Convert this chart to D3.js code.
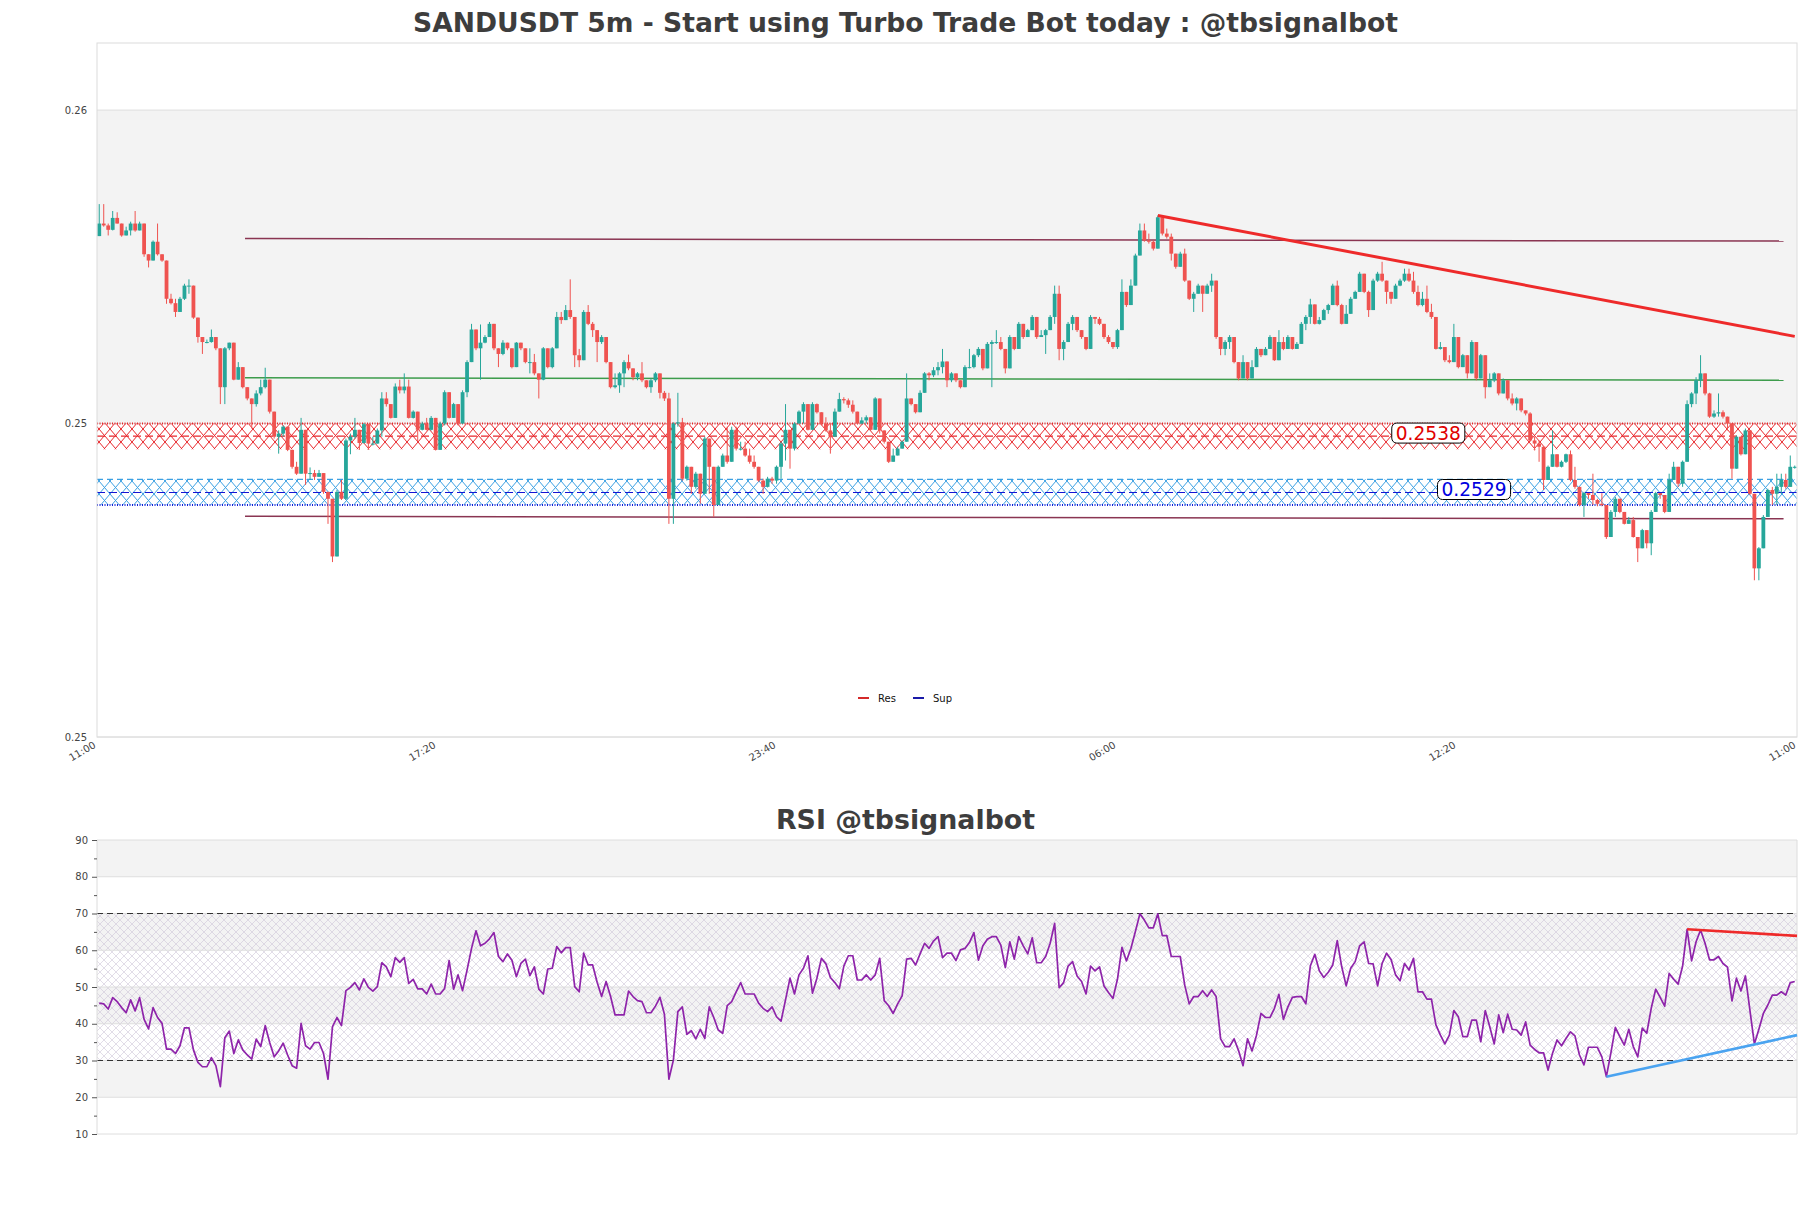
<!DOCTYPE html>
<html>
<head>
<meta charset="utf-8">
<script src="https://cdn.jsdelivr.net/npm/d3@7"></script>
<style>
  body { margin: 0; background: #fff; }
  svg { display: block; font-family: "DejaVu Sans", sans-serif; }
</style>
</head>
<body>
<div id="chart"></div>
<script>
// --- data ---
var firstOpen = 0.25699
var closes = [
  0.25719,0.25716,0.25709,0.25728,0.25719,0.25700,0.25708,0.25719,0.25708,0.25719,
  0.25670,0.25660,0.25690,0.25670,0.25660,0.25599,0.25592,0.25578,0.25599,0.25620,
  0.25620,0.25569,0.25538,0.25530,0.25530,0.25538,0.25520,0.25458,0.25520,0.25529,
  0.25470,0.25490,0.25458,0.25440,0.25431,0.25448,0.25458,0.25470,0.25419,0.25379,
  0.25384,0.25395,0.25358,0.25331,0.25320,0.25390,0.25320,0.25321,0.25315,0.25321,0.25291,
  0.25280,0.25188,0.25291,0.25280,0.25373,0.25379,0.25390,0.25369,0.25399,0.25368,
  0.25368,0.25389,0.25440,0.25431,0.25409,0.25459,0.25453,0.25459,0.25409,0.25419,
  0.25390,0.25400,0.25390,0.25409,0.25358,0.25400,0.25450,0.25409,0.25431,0.25400,
  0.25450,0.25498,0.25550,0.25520,0.25529,0.25538,0.25559,0.25520,0.25511,0.25529,
  0.25520,0.25490,0.25529,0.25520,0.25498,0.25498,0.25480,0.25470,0.25520,0.25490,
  0.25520,0.25570,
  0.25565,0.25581,0.25570,0.25509,0.25501,0.25578,0.25559,0.25549,0.25530,0.25538,
  0.25498,0.25458,0.25461,0.25480,0.25498,0.25488,0.25474,0.25480,0.25469,0.25458,
  0.25469,0.25480,0.25449,0.25440,0.25280,0.25400,0.25402,
  0.25312,0.25331,0.25299,0.25320,0.25288,0.25376,0.25331,0.25270,0.25331,0.25349,
  0.25339,0.25390,0.25360,0.25360,0.25349,0.25339,0.25331,0.25309,0.25299,0.25312,
  0.25309,0.25331,0.25368,0.25390,0.25360,0.25400,
  0.25419,0.25431,0.25390,0.25431,0.25418,0.25400,0.25389,0.25379,0.25419,0.25439,
  0.25437,0.25430,0.25419,0.25400,0.25405,0.25410,0.25390,0.25440,0.25389,0.25371,
  0.25339,0.25349,0.25360,0.25371,0.25440,0.25431,0.25418,
  0.25449,0.25480,0.25477,0.25485,0.25490,0.25499,0.25469,0.25480,0.25469,0.25458,
  0.25490,0.25490,0.25509,0.25519,0.25488,0.25527,0.25530,0.25530,0.25519,0.25488,
  0.25538,0.25519,0.25559,0.25538,0.25549,0.25570,0.25538,
  0.25541,0.25549,0.25570,0.25607,0.25519,0.25530,0.25559,0.25570,0.25549,0.25538,
  0.25519,0.25570,0.25567,0.25559,0.25538,0.25530,0.25522,0.25549,0.25610,0.25589,
  0.25620,0.25668,0.25708,0.25692,
  0.25690,0.25679,0.25729,0.25703,0.25698,0.25671,0.25650,0.25671,0.25628,0.25599,
  0.25607,0.25620,0.25607,0.25620,0.25628,0.25538,0.25519,0.25530,0.25538,0.25498,
  0.25472,0.25498,0.25472,0.25490,0.25519,0.25509,0.25519,0.25538,0.25501,0.25530,
  0.25519,0.25538,0.25519,0.25527,0.25559,0.25570,0.25590,0.25559,0.25565,0.25581,
  0.25589,0.25620,0.25589,0.25559,0.25575,0.25599,0.25610,0.25639,0.25610,0.25581,
  0.25628,0.25639,0.25628,0.25610,0.25599,0.25620,0.25628,0.25639,0.25628,0.25610,
  0.25589,0.25599,0.25578,0.25570,0.25519,0.25522,0.25501,0.25498,0.25538,0.25490,
  0.25509,0.25480,0.25530,0.25472,0.25509,0.25458,0.25469,0.25480,0.25448,0.25469,
  0.25440,0.25432,0.25440,0.25421,0.25416,0.25373,
  0.25368,0.25363,0.25310,0.25331,0.25351,0.25331,0.25339,0.25351,0.25310,0.25299,
  0.25270,0.25289,0.25286,0.25278,0.25272,0.25270,0.25219,0.25259,0.25280,0.25259,
  0.25240,0.25246,0.25219,0.25201,0.25230,0.25209,0.25259,0.25289,0.25286,0.25259,
  0.25310,0.25331,0.25304,0.25339,0.25431,0.25448,0.25469,0.25480,0.25448,0.25411,
  0.25416,0.25418,0.25411,0.25400,0.25328,0.25379,0.25351,0.25389,0.25288,0.25169,
  0.25201,0.25251,0.25294,0.25288,0.25299,0.25310,0.25299,0.25331,0.25331
]
var highs = [
  0.25750,0.25750,0.25719,0.25739,0.25737,0.25719,0.25714,0.25722,0.25739,0.25722,
  0.25719,0.25670,0.25692,0.25719,0.25670,0.25660,0.25607,0.25599,0.25602,0.25623,
  0.25630,0.25620,0.25569,0.25538,0.25534,0.25550,0.25538,0.25520,0.25522,0.25529,
  0.25529,0.25498,0.25490,0.25458,0.25440,0.25453,0.25470,0.25489,0.25470,0.25419,
  0.25389,0.25397,0.25395,0.25358,0.25339,0.25409,0.25390,0.25330,0.25326,0.25326,0.25321,
  0.25291,0.25280,0.25294,0.25310,0.25376,0.25384,0.25409,0.25390,0.25401,0.25399,
  0.25379,0.25392,0.25450,0.25450,0.25431,0.25464,0.25470,0.25480,0.25470,0.25421,
  0.25419,0.25403,0.25409,0.25412,0.25409,0.25403,0.25453,0.25450,0.25433,0.25431,
  0.25453,0.25501,0.25559,0.25529,0.25558,0.25541,0.25562,0.25559,0.25520,0.25533,
  0.25529,0.25520,0.25530,0.25529,0.25520,0.25520,0.25511,0.25480,0.25522,0.25520,
  0.25522,0.25578,
  0.25578,0.25589,0.25630,0.25570,0.25519,0.25581,0.25589,0.25562,0.25549,0.25541,
  0.25538,0.25498,0.25480,0.25482,0.25501,0.25510,0.25480,0.25482,0.25498,0.25469,
  0.25472,0.25482,0.25480,0.25452,0.25449,0.25402,0.25449,
  0.25409,0.25333,0.25331,0.25323,0.25320,0.25379,0.25376,0.25331,0.25333,0.25352,
  0.25395,0.25395,0.25395,0.25371,0.25371,0.25360,0.25349,0.25331,0.25312,0.25315,
  0.25315,0.25333,0.25371,0.25431,0.25390,0.25402,
  0.25421,0.25434,0.25431,0.25434,0.25432,0.25418,0.25410,0.25400,0.25424,0.25449,
  0.25442,0.25440,0.25437,0.25419,0.25410,0.25413,0.25410,0.25442,0.25437,0.25389,
  0.25371,0.25360,0.25363,0.25373,0.25480,0.25440,0.25431,
  0.25453,0.25482,0.25482,0.25490,0.25498,0.25519,0.25498,0.25482,0.25480,0.25469,
  0.25493,0.25519,0.25511,0.25522,0.25519,0.25530,0.25533,0.25549,0.25538,0.25519,
  0.25541,0.25538,0.25562,0.25559,0.25551,0.25573,0.25570,
  0.25549,0.25551,0.25573,0.25620,0.25620,0.25533,0.25562,0.25573,0.25570,0.25549,
  0.25538,0.25573,0.25570,0.25570,0.25559,0.25541,0.25530,0.25551,0.25630,0.25610,
  0.25630,0.25671,0.25719,0.25719,
  0.25703,0.25692,0.25732,0.25719,0.25711,0.25703,0.25671,0.25674,0.25679,0.25628,
  0.25610,0.25623,0.25620,0.25623,0.25639,0.25628,0.25538,0.25533,0.25541,0.25538,
  0.25498,0.25509,0.25498,0.25501,0.25522,0.25519,0.25522,0.25541,0.25538,0.25549,
  0.25538,0.25541,0.25538,0.25530,0.25562,0.25573,0.25599,0.25590,0.25570,0.25583,
  0.25591,0.25623,0.25628,0.25591,0.25589,0.25602,0.25612,0.25642,0.25639,0.25612,
  0.25631,0.25642,0.25658,0.25628,0.25610,0.25623,0.25631,0.25647,0.25647,0.25642,
  0.25620,0.25610,0.25620,0.25591,0.25570,0.25530,0.25522,0.25509,0.25559,0.25538,
  0.25511,0.25509,0.25533,0.25530,0.25511,0.25490,0.25480,0.25482,0.25480,0.25472,
  0.25469,0.25448,0.25442,0.25440,0.25421,0.25418,
  0.25379,0.25373,0.25351,0.25333,0.25389,0.25351,0.25341,0.25352,0.25357,0.25331,
  0.25299,0.25291,0.25289,0.25320,0.25280,0.25289,0.25270,0.25262,0.25283,0.25280,
  0.25259,0.25251,0.25251,0.25219,0.25232,0.25230,0.25262,0.25291,0.25289,0.25280,
  0.25320,0.25339,0.25331,0.25341,0.25437,0.25450,0.25474,0.25509,0.25480,0.25449,
  0.25421,0.25448,0.25421,0.25411,0.25400,0.25381,0.25379,0.25392,0.25389,0.25288,
  0.25203,0.25254,0.25296,0.25299,0.25320,0.25320,0.25320,0.25349,0.25333
]
var lows = [
  0.25699,0.25714,0.25700,0.25708,0.25719,0.25698,0.25700,0.25700,0.25706,0.25708,
  0.25666,0.25649,0.25660,0.25668,0.25658,0.25591,0.25590,0.25570,0.25578,0.25597,
  0.25607,0.25567,0.25529,0.25511,0.25528,0.25529,0.25517,0.25431,0.25431,0.25517,
  0.25469,0.25470,0.25456,0.25437,0.25392,0.25427,0.25445,0.25456,0.25416,0.25376,
  0.25352,0.25379,0.25356,0.25328,0.25318,0.25320,0.25302,0.25310,0.25310,0.25315,0.25288,
  0.25240,0.25179,0.25188,0.25278,0.25278,0.25351,0.25376,0.25358,0.25368,0.25358,
  0.25365,0.25368,0.25379,0.25427,0.25408,0.25409,0.25448,0.25448,0.25408,0.25408,
  0.25372,0.25389,0.25389,0.25389,0.25357,0.25358,0.25397,0.25408,0.25409,0.25397,
  0.25400,0.25442,0.25498,0.25517,0.25470,0.25528,0.25538,0.25517,0.25490,0.25509,
  0.25517,0.25488,0.25490,0.25517,0.25496,0.25480,0.25477,0.25440,0.25469,0.25488,
  0.25488,0.25520,
  0.25559,0.25570,0.25567,0.25490,0.25490,0.25501,0.25557,0.25538,0.25498,0.25527,
  0.25496,0.25456,0.25456,0.25449,0.25458,0.25485,0.25469,0.25469,0.25466,0.25456,
  0.25449,0.25466,0.25440,0.25436,0.25240,0.25240,0.25395,
  0.25309,0.25309,0.25288,0.25296,0.25272,0.25288,0.25288,0.25251,0.25270,0.25331,
  0.25336,0.25339,0.25357,0.25357,0.25347,0.25336,0.25328,0.25307,0.25288,0.25298,
  0.25304,0.25304,0.25312,0.25341,0.25328,0.25357,
  0.25400,0.25400,0.25389,0.25390,0.25416,0.25397,0.25387,0.25352,0.25379,0.25419,
  0.25432,0.25425,0.25416,0.25399,0.25399,0.25400,0.25389,0.25390,0.25384,0.25368,
  0.25337,0.25339,0.25349,0.25360,0.25371,0.25429,0.25416,
  0.25418,0.25449,0.25469,0.25474,0.25477,0.25480,0.25458,0.25466,0.25466,0.25456,
  0.25458,0.25488,0.25488,0.25506,0.25485,0.25488,0.25458,0.25527,0.25517,0.25480,
  0.25488,0.25517,0.25519,0.25535,0.25538,0.25549,0.25535,
  0.25538,0.25511,0.25549,0.25559,0.25501,0.25501,0.25530,0.25549,0.25546,0.25535,
  0.25517,0.25519,0.25559,0.25557,0.25535,0.25527,0.25519,0.25519,0.25549,0.25586,
  0.25589,0.25620,0.25668,0.25690,
  0.25687,0.25676,0.25679,0.25700,0.25695,0.25660,0.25647,0.25650,0.25626,0.25597,
  0.25578,0.25607,0.25578,0.25607,0.25610,0.25535,0.25509,0.25509,0.25519,0.25496,
  0.25469,0.25472,0.25469,0.25472,0.25498,0.25506,0.25509,0.25519,0.25500,0.25501,
  0.25517,0.25519,0.25518,0.25519,0.25527,0.25549,0.25559,0.25558,0.25558,0.25565,
  0.25575,0.25589,0.25587,0.25558,0.25559,0.25575,0.25599,0.25610,0.25608,0.25570,
  0.25581,0.25626,0.25626,0.25591,0.25591,0.25599,0.25619,0.25626,0.25626,0.25607,
  0.25587,0.25587,0.25576,0.25567,0.25518,0.25518,0.25498,0.25496,0.25498,0.25488,
  0.25490,0.25472,0.25480,0.25469,0.25472,0.25440,0.25466,0.25466,0.25445,0.25448,
  0.25437,0.25429,0.25421,0.25418,0.25413,0.25371,
  0.25357,0.25339,0.25294,0.25310,0.25331,0.25330,0.25330,0.25337,0.25308,0.25296,
  0.25268,0.25251,0.25280,0.25270,0.25268,0.25268,0.25216,0.25219,0.25251,0.25257,
  0.25239,0.25240,0.25218,0.25179,0.25201,0.25201,0.25190,0.25259,0.25280,0.25257,
  0.25259,0.25310,0.25299,0.25299,0.25349,0.25426,0.25431,0.25458,0.25445,0.25409,
  0.25409,0.25411,0.25408,0.25389,0.25312,0.25328,0.25349,0.25351,0.25286,0.25150,
  0.25150,0.25201,0.25251,0.25270,0.25270,0.25288,0.25296,0.25299,0.25328
]
var rsi = [
  45.6,45.4,44.0,47.1,46.0,44.4,43.0,46.5,43.5,47.1,41.2,38.6,44.4,41.7,40.1,33.1,33.1,31.9,34.0,38.9,
  38.9,32.9,29.5,28.3,28.3,30.8,28.6,22.9,36.2,38.0,31.9,35.6,32.9,31.5,30.4,35.8,33.8,39.5,34.9,31.0,
  32.6,34.7,31.5,28.6,27.9,40.1,34.0,33.1,34.9,34.9,31.9,24.9,39.2,41.7,39.5,49.0,49.9,51.2,49.2,52.2,
  49.9,48.9,50.1,
  56.6,55.5,52.8,58.0,56.7,58.0,51.0,52.1,49.5,49.5,48.1,50.8,48.1,48.1,49.6,57.2,49.4,53.3,49.0,54.6,
  60.5,65.3,61.2,61.9,63.1,64.8,58.3,56.9,59.0,57.3,52.8,56.4,57.6,53.1,55.5,49.4,48.1,54.9,55.1,61.0,
  59.3,60.7,60.7,50.1,48.7,59.2,56.0,56.0,51.3,47.4,51.5,47.4,42.4,42.4,42.4,48.9,47.4,46.3,46.0,43.0,
  43.0,44.8,47.2,42.6,24.9,30.1,43.3,44.6,37.1,38.1,35.9,38.5,36.0,44.6,41.7,38.3,37.4,44.9,46.0,48.7,
  51.2,48.1,48.1,48.1,45.6,44.2,43.3,44.6,41.9,40.7,46.5,52.4,48.1,53.3,55.1,58.5,48.3,52.4,57.8,56.3,
  52.6,51.2,49.5,55.7,58.5,58.5,51.9,51.9,53.3,51.9,53.3,57.8,46.3,44.9,42.8,45.4,47.6,57.6,57.8,56.0,
  59.0,61.9,60.5,62.5,63.7,58.0,59.2,59.2,57.2,60.1,
  60.5,62.1,64.8,57.3,61.2,63.0,63.7,63.7,61.4,55.3,62.3,57.6,63.7,61.2,59.0,63.4,56.6,56.6,58.3,61.9,
  67.3,49.8,51.2,55.7,56.9,53.0,51.5,48.1,55.7,54.4,55.5,50.3,48.5,46.9,52.1,60.8,57.1,60.5,65.1,69.9,
  68.2,66.1,66.1,69.9,64.0,64.0,58.3,58.3,58.3,50.5,45.4,47.4,47.4,49.0,47.4,49.2,47.4,35.9,33.8,33.8,
  35.9,32.7,28.6,35.9,32.6,36.9,42.8,41.7,41.7,44.2,48.0,41.2,44.6,47.2,47.4,47.4,45.4,55.7,58.9,54.4,
  52.6,54.0,56.0,62.6,55.5,50.3,55.1,56.9,61.2,62.3,56.4,56.3,50.3,56.4,59.2,57.5,53.3,51.7,56.4,54.6,
  57.8,48.7,48.7,46.7,46.7,39.7,36.9,34.5,36.9,43.6,41.9,36.5,36.5,41.0,41.0,35.1,43.6,39.2,34.5,
  42.4,37.6,42.6,38.5,38.3,36.9,40.5,34.2,33.0,32.1,32.1,27.4,32.0,35.6,34.0,36.0,37.8,36.7,31.5,28.8,
  33.6,33.6,33.6,31.0,25.6,32.0,39.0,36.5,34.2,38.5,33.8,31.0,38.8,37.4,44.2,49.4,47.2,44.8,53.7,52.1,
  50.8,55.7,65.7,57.1,62.3,65.5,61.9,57.4,57.4,58.3,56.4,55.4,46.2,52.4,48.9,53.0,43.7,34.5,38.5,42.8,
  45.1,47.8,47.8,48.7,47.8,51.2,51.5
]
var timeLabels = ["11:00", "17:20", "23:40", "06:00", "12:20", "11:00"]
var priceTicks = [0.249, 0.254, 0.259]
var rsiTicks = [10, 20, 30, 40, 50, 60, 70, 80, 90]
var rsiMinorTicks = [15, 25, 35, 45, 55, 65, 75, 85]
var resZone = [0.25359, 0.25400], resLevel = 0.2538
var supZone = [0.25270, 0.25311], supLevel = 0.2529
// [candle position, price]
var resTrend = [[236.5, 0.25732], [378.5, 0.25539]]
var upperLine = [[33, 0.25695], [376, 0.25691]]
var midLine = [[33, 0.25473], [376, 0.25469]]
var lowerLine = [[33, 0.25252], [376, 0.25248]]
var resLabelAt = 296.8, supLabelAt = 307
// [candle position, rsi]
var rsiResTrend = [[354.5, 65.7], [379, 63.9]]
var rsiSupTrend = [[336.5, 25.6], [379, 36.9]]

// --- drawing ---
var N = closes.length
var candles = closes.map(function(c, i) {
  var o = i === 0 ? firstOpen : closes[i - 1]
  return { i: i, o: o, c: c, h: Math.max(highs[i], o, c), l: Math.min(lows[i], o, c) }
})

var svg = d3.select("#chart").append("svg").attr("width", 1811).attr("height", 1208)
var defs = svg.append("defs")

function hatch(id, color, w, h, sw) {
  var p = defs.append("pattern").attr("id", id)
    .attr("patternUnits", "userSpaceOnUse").attr("width", w).attr("height", h)
  p.append("path").attr("d", "M0,0L" + w + "," + h + "M0," + h + "L" + w + ",0")
    .attr("stroke", color).attr("stroke-width", sw).attr("fill", "none")
}
hatch("hatchRes", "#e8262b", 11, 13, 1)
hatch("hatchSup", "#3ba0e2", 11, 13, 1)
hatch("hatchRsi", "#cfc6d9", 8, 8, 0.6)

var M = { left: 97, right: 1797, top: 43, bottom: 737 }
var x = d3.scaleLinear().domain([0, N]).range([M.left, M.right])
var y = d3.scaleLinear().domain([0.249, 0.26007]).range([M.bottom, M.top])

svg.append("text").attr("x", 905.5).attr("y", 32).attr("text-anchor", "middle")
  .attr("font-size", 26.6).attr("font-weight", "bold").attr("fill", "#3d3d3d")
  .text("SANDUSDT 5m - Start using Turbo Trade Bot today : @tbsignalbot")

var main = svg.append("g")
main.append("rect").attr("x", M.left).attr("width", M.right - M.left)
  .attr("y", y(priceTicks[2])).attr("height", y(priceTicks[1]) - y(priceTicks[2]))
  .attr("fill", "#f3f3f3")
main.selectAll(".grid").data(priceTicks).enter().append("line")
  .attr("x1", M.left).attr("x2", M.right)
  .attr("y1", function(d) { return y(d) }).attr("y2", function(d) { return y(d) })
  .attr("stroke", "#dedede").attr("stroke-width", 1)

// resistance zone
main.append("rect").attr("x", M.left).attr("width", M.right - M.left)
  .attr("y", y(resZone[1])).attr("height", y(resZone[0]) - y(resZone[1]))
  .attr("fill", "url(#hatchRes)")
main.append("line").attr("x1", M.left).attr("x2", M.right)
  .attr("y1", y(resZone[1])).attr("y2", y(resZone[1]))
  .attr("stroke", "#e8262b").attr("stroke-width", 2).attr("stroke-dasharray", "1,1.5")
main.append("line").attr("x1", M.left).attr("x2", M.right)
  .attr("y1", y(resLevel)).attr("y2", y(resLevel))
  .attr("stroke", "#e8262b").attr("stroke-width", 1.2).attr("stroke-dasharray", "8,4")

// support zone
main.append("rect").attr("x", M.left).attr("width", M.right - M.left)
  .attr("y", y(supZone[1])).attr("height", y(supZone[0]) - y(supZone[1]))
  .attr("fill", "url(#hatchSup)")
main.append("line").attr("x1", M.left).attr("x2", M.right)
  .attr("y1", y(supZone[1])).attr("y2", y(supZone[1]))
  .attr("stroke", "#3ba0e2").attr("stroke-width", 1.2).attr("stroke-dasharray", "6,4")
main.append("line").attr("x1", M.left).attr("x2", M.right)
  .attr("y1", y(supLevel)).attr("y2", y(supLevel))
  .attr("stroke", "#1414d2").attr("stroke-width", 1.2).attr("stroke-dasharray", "8,4")
main.append("line").attr("x1", M.left).attr("x2", M.right)
  .attr("y1", y(supZone[0])).attr("y2", y(supZone[0]))
  .attr("stroke", "#1020d8").attr("stroke-width", 2).attr("stroke-dasharray", "1,1.5")

var segLine = d3.line()
  .x(function(d) { return x(d[0]) })
  .y(function(d) { return y(d[1]) })
main.append("path").attr("d", segLine(upperLine)).attr("stroke", "#8a3552").attr("stroke-width", 1.5).attr("fill", "none")
main.append("path").attr("d", segLine(midLine)).attr("stroke", "#3d9c4c").attr("stroke-width", 1.5).attr("fill", "none")
main.append("path").attr("d", segLine(lowerLine)).attr("stroke", "#8a3552").attr("stroke-width", 1.5).attr("fill", "none")

// candles
var up = "#26a69a", down = "#ef5350"
var cg = main.selectAll(".candle").data(candles).enter().append("g")
cg.append("line")
  .attr("x1", function(d) { return x(d.i + 0.5) }).attr("x2", function(d) { return x(d.i + 0.5) })
  .attr("y1", function(d) { return y(d.h) }).attr("y2", function(d) { return y(d.l) })
  .attr("stroke", function(d) { return d.c >= d.o ? up : down }).attr("stroke-width", 1)
cg.append("rect")
  .attr("x", function(d) { return x(d.i + 0.5) - 1.9 }).attr("width", 3.8)
  .attr("y", function(d) { return y(Math.max(d.o, d.c)) })
  .attr("height", function(d) { return Math.max(1, Math.abs(y(d.o) - y(d.c))) })
  .attr("fill", function(d) { return d.c >= d.o ? up : down })

main.append("path").attr("d", segLine(resTrend)).attr("stroke", "#ee2a2a").attr("stroke-width", 3).attr("fill", "none")

// level labels
function levelLabel(pos, level, color) {
  var cy = y(level) - 3
  var t = main.append("text").attr("x", x(pos)).attr("y", cy + 6.6)
    .attr("text-anchor", "middle").attr("font-size", 18.6).attr("fill", color)
    .text(level.toFixed(4))
  var b = t.node().getBBox()
  main.insert("rect", function() { return t.node() })
    .attr("x", b.x - 4).attr("y", cy - 10).attr("width", b.width + 8).attr("height", 20)
    .attr("rx", 5).attr("fill", "#fff").attr("stroke", "#000").attr("stroke-width", 1)
}
levelLabel(resLabelAt, resLevel, "#e00000")
levelLabel(supLabelAt, supLevel, "#0000e0")

// legend
var lg = main.append("g").attr("font-size", 10).attr("fill", "#111")
lg.append("line").attr("x1", 858).attr("x2", 869).attr("y1", 698).attr("y2", 698).attr("stroke", "#d42a2a").attr("stroke-width", 2)
lg.append("text").attr("x", 878).attr("y", 701.5).text("Res")
lg.append("line").attr("x1", 913).attr("x2", 924).attr("y1", 698).attr("y2", 698).attr("stroke", "#1a1aa8").attr("stroke-width", 2)
lg.append("text").attr("x", 933).attr("y", 701.5).text("Sup")

// border
main.append("rect").attr("x", M.left).attr("y", M.top).attr("width", M.right - M.left).attr("height", M.bottom - M.top)
  .attr("fill", "none").attr("stroke", "#dcdcdc").attr("stroke-width", 1)

// axes
var yAxis = svg.append("g").attr("transform", "translate(" + M.left + ",0)")
  .call(d3.axisLeft(y).tickValues(priceTicks).tickFormat(d3.format(".2f")).tickSize(0).tickPadding(10))
yAxis.select(".domain").remove()
yAxis.selectAll("text").attr("font-size", 10).attr("fill", "#444").attr("font-family", "DejaVu Sans")

var xTicks = d3.range(timeLabels.length).map(function(k) { return k * N / (timeLabels.length - 1) })
var xAxis = svg.append("g").attr("transform", "translate(0," + M.bottom + ")")
  .call(d3.axisBottom(x).tickValues(xTicks).tickFormat(function(d, k) { return timeLabels[k] }).tickSize(0))
xAxis.select(".domain").remove()
xAxis.selectAll("text").attr("font-size", 10).attr("fill", "#444").attr("font-family", "DejaVu Sans")
  .attr("text-anchor", "end").attr("dy", null).attr("y", 0)
  .attr("transform", "translate(-1,10) rotate(-30)")

// --- RSI panel ---
var R = { left: 97, right: 1797, top: 840, bottom: 1134 }
var yr = d3.scaleLinear().domain([10, 90]).range([R.bottom, R.top])

svg.append("text").attr("x", 905.5).attr("y", 829).attr("text-anchor", "middle")
  .attr("font-size", 26.8).attr("font-weight", "bold").attr("fill", "#3d3d3d")
  .text("RSI @tbsignalbot")

var rg = svg.append("g")
var grayBands = [[80, 90], [60, 70], [40, 50], [20, 30]]
rg.selectAll(".band").data(grayBands).enter().append("rect")
  .attr("x", R.left).attr("width", R.right - R.left)
  .attr("y", function(d) { return yr(d[1]) }).attr("height", function(d) { return yr(d[0]) - yr(d[1]) })
  .attr("fill", "#f3f3f3")
rg.append("rect").attr("x", R.left).attr("width", R.right - R.left)
  .attr("y", yr(70)).attr("height", yr(30) - yr(70)).attr("fill", "url(#hatchRsi)")
rg.selectAll(".grid").data(rsiTicks).enter().append("line")
  .attr("x1", R.left).attr("x2", R.right)
  .attr("y1", function(d) { return yr(d) }).attr("y2", function(d) { return yr(d) })
  .attr("stroke", "#dedede").attr("stroke-width", 1)
rg.selectAll(".ob").data([70, 30]).enter().append("line")
  .attr("x1", R.left).attr("x2", R.right)
  .attr("y1", function(d) { return yr(d) }).attr("y2", function(d) { return yr(d) })
  .attr("stroke", "#333").attr("stroke-width", 1).attr("stroke-dasharray", "6,4")
rg.append("line").attr("x1", R.left).attr("x2", R.left).attr("y1", R.top).attr("y2", R.bottom).attr("stroke", "#dcdcdc")
rg.append("line").attr("x1", R.right).attr("x2", R.right).attr("y1", R.top).attr("y2", R.bottom).attr("stroke", "#dcdcdc")

var rsiLine = d3.line()
  .x(function(d, i) { return x(i + 0.5) })
  .y(function(d) { return yr(d) })
rg.append("path").attr("d", rsiLine(rsi)).attr("stroke", "#8e24aa").attr("stroke-width", 1.7)
  .attr("fill", "none").attr("stroke-linejoin", "round")

var rsiSeg = d3.line()
  .x(function(d) { return x(d[0]) })
  .y(function(d) { return yr(d[1]) })
rg.append("path").attr("d", rsiSeg(rsiResTrend)).attr("stroke", "#ee2a2a").attr("stroke-width", 2.6).attr("fill", "none")
rg.append("path").attr("d", rsiSeg(rsiSupTrend)).attr("stroke", "#4aa3f0").attr("stroke-width", 2.6).attr("fill", "none")

var ryAxis = svg.append("g").attr("transform", "translate(" + R.left + ",0)")
  .call(d3.axisLeft(yr).tickValues(rsiTicks).tickSize(5).tickPadding(4))
ryAxis.select(".domain").remove()
ryAxis.selectAll("line").attr("stroke", "#555")
ryAxis.selectAll("text").attr("font-size", 10).attr("fill", "#444").attr("font-family", "DejaVu Sans")
var rMinor = svg.append("g").attr("transform", "translate(" + R.left + ",0)")
  .call(d3.axisLeft(yr).tickValues(rsiMinorTicks).tickSize(3).tickFormat(""))
rMinor.select(".domain").remove()
rMinor.selectAll("line").attr("stroke", "#555")
</script>
</body>
</html>
